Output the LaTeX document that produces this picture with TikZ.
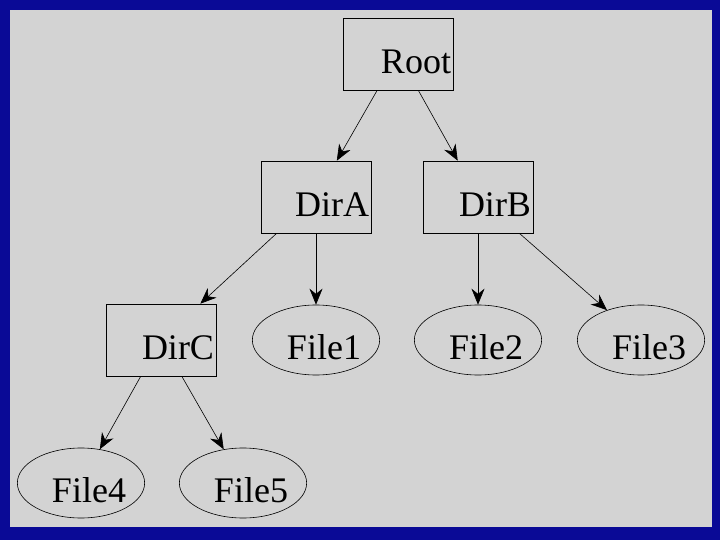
\documentclass[tikz,border=0pt]{standalone}
\usepackage{fontspec}
\setmainfont{Liberation Serif}
\usetikzlibrary{shapes.geometric,arrows.meta}
\definecolor{framebl}{RGB}{10,10,150}
\definecolor{panel}{RGB}{211,211,211}
\tikzset{
  dirbox/.style={rectangle,draw,semithick,minimum width=110pt,minimum height=72pt,
    text width=106pt,align=right,inner sep=1pt,text height=39pt,text depth=0pt,
    font=\fontsize{36}{38}\selectfont},
  filenode/.style={ellipse,draw,semithick,inner sep=0pt,minimum height=70pt,
    text width=90pt,align=right,text height=39pt,text depth=0pt,
    font=\fontsize{36}{38}\selectfont},
  edge/.style={-{Stealth[length=16pt,width=13pt]},semithick}
}
\begin{document}
\begin{tikzpicture}[x=1pt,y=-1pt]
  \fill[framebl] (0,0) rectangle (720,540);
  \fill[panel] (10,10) rectangle (712,527);
  \useasboundingbox (0,0) rectangle (720,540);
  % directories
  \node[dirbox] (root) at (398,54) {Root};
  \node[dirbox] (dira) at (316,197) {DirA};
  \node[dirbox] (dirb) at (478,197) {DirB};
  \node[dirbox] (dirc) at (161,340) {DirC};
  % files
  \node[filenode] (file1) at (316,340) {File1};
  \node[filenode] (file2) at (478,340) {File2};
  \node[filenode] (file3) at (641,340) {File3};
  \node[filenode] (file4) at (81,483) {File4};
  \node[filenode] (file5) at (243,483) {File5};
  % edges
  \draw[edge] (root) -- (dira);
  \draw[edge] (root) -- (dirb);
  \draw[edge] (dira) -- (dirc);
  \draw[edge] (dira) -- (file1);
  \draw[edge] (dirb) -- (file2);
  \draw[edge] (dirb) -- (file3);
  \draw[edge] (dirc) -- (file4);
  \draw[edge] (dirc) -- (file5);
\end{tikzpicture}
\end{document}
